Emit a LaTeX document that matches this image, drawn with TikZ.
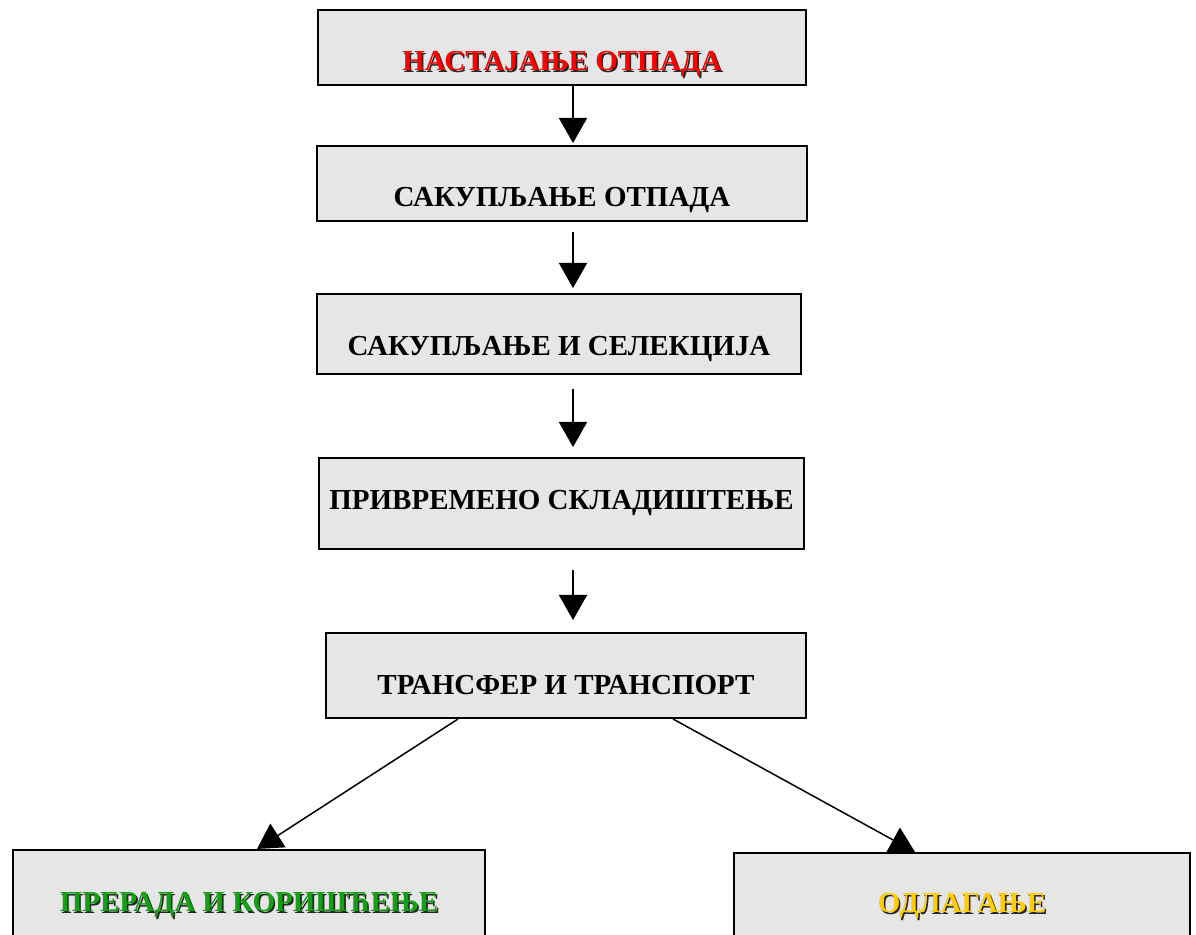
\documentclass[tikz,border=0pt]{standalone}
\usepackage{fontspec}
\setmainfont{Liberation Serif}
\usetikzlibrary{arrows.meta}
\definecolor{boxgray}{HTML}{E6E6E6}
\definecolor{startred}{HTML}{FF0000}
\definecolor{reusegreen}{RGB}{20,160,20}
\definecolor{dumpgold}{HTML}{FFCC00}
\definecolor{shadowgray}{gray}{0.15}
\newcommand\shadowed[2]{\leavevmode\rlap{\kern0.8pt\raisebox{-0.8pt}{\color{shadowgray}#2}}\textcolor{#1}{#2}}

\begin{document}
\begin{tikzpicture}[x=0.5pt,y=-0.5pt]
        \tikzstyle{stage}=[draw=black,line width=1pt,fill=boxgray,anchor=north west,inner sep=0pt,text depth=0pt,font=\fontsize{14.5}{17}\selectfont\bfseries]
        \tikzstyle{flow}=[line width=0.75pt,-{Triangle[width=14pt,length=12.5pt]}]
        \useasboundingbox (0,0) rectangle (1196,935);

        \node[stage,minimum width=244pt,minimum height=37.5pt,text height=23.1pt] (S-gen) at (317,9) {\shadowed{startred}{НАСТАЈАЊЕ ОТПАДА}};
        \node[stage,minimum width=245pt,minimum height=37.5pt,text height=23.1pt] (S-collect) at (316,145) {САКУПЉАЊЕ ОТПАДА};
        \node[stage,minimum width=242pt,minimum height=40pt,text height=21.6pt] (S-select) at (316,293) {САКУПЉАЊЕ И СЕЛЕКЦИЈА};
        \node[stage,minimum width=242.5pt,minimum height=45.5pt,text height=6.1pt] (S-store) at (318,457) {ПРИВРЕМЕНО СКЛАДИШТЕЊЕ};
        \node[stage,minimum width=240pt,minimum height=42.5pt,text height=19.1pt] (S-haul) at (325,632) {ТРАНСФЕР И ТРАНСПОРТ};
        \node[stage,minimum width=236pt,minimum height=52pt,text height=9.6pt] (S-reuse) at (12,849) {\shadowed{reusegreen}{ПРЕРАДА И КОРИШЋЕЊЕ}};
        \node[stage,minimum width=228pt,minimum height=50pt,text height=9.6pt] (S-dump) at (733,852) {\shadowed{dumpgold}{ОДЛАГАЊЕ}};

        \coordinate (axis) at (573,0);
        \foreach \from/\to/\gapa/\gapb in {gen/collect/0pt/1pt, collect/select/5pt/2.5pt, select/store/7pt/5pt, store/haul/10pt/6pt}
                \draw[flow,shorten <=\gapa,shorten >=\gapb] (S-\from.south -| axis) -- (S-\to.north -| axis);

        \coordinate (splitL) at (458,0);
        \coordinate (splitR) at (673,0);
        \coordinate (tipL) at (257,0);
        \coordinate (tipR) at (915,0);
        \draw[flow] (S-haul.south -| splitL) -- (S-reuse.north -| tipL);
        \draw[flow] (S-haul.south -| splitR) -- (S-dump.north -| tipR);
\end{tikzpicture}
\end{document}
